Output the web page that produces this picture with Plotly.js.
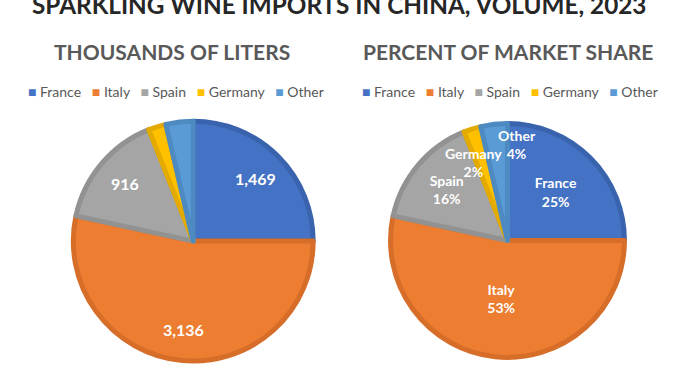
<!DOCTYPE html>
<html><head><meta charset="utf-8">
<script src="https://cdn.plot.ly/plotly-3.0.1.min.js"></script>
<style>html,body{margin:0;padding:0;background:#fff}#chart{width:678px;height:381px}</style>
</head><body><div id="chart"></div>
<script>
const countries = ["France", "Italy", "Spain", "Germany", "Other"];
const volumeThousandLiters = [1469, 3136, 916, 140, 215];
const volumeLabelShown = [true, true, true, false, false];
const shareLabelInside = [true, true, true, false, false];
const sliceColors = ["#4472C4", "#ED7D31", "#A5A5A5", "#FFC000", "#5B9BD5"];
const sliceBorders = ["#3A63AE", "#D66D28", "#929292", "#E3AB00", "#4E8AC2"];
const titleText = "SPARKLING WINE IMPORTS IN CHINA, VOLUME, 2023";
const leftSubtitle = "THOUSANDS OF LITERS";
const rightSubtitle = "PERCENT OF MARKET SHARE";

const FONT = "Lato, 'Open Sans', sans-serif";
const W = 678, H = 381;
const leftDomain = {x: [0.108, 0.462], y: [0.0525, 0.682]};
const rightDomain = {x: [0.576, 0.921], y: [0.0617, 0.676]};

const total = volumeThousandLiters.reduce((a, b) => a + b, 0);
// mid-angle (radians, clockwise from 12 o'clock) of each slice, from the data
const midAngles = (() => {
  let cum = 0;
  return volumeThousandLiters.map(v => { const m = (cum + v / 2) / total * 2 * Math.PI; cum += v; return m; });
})();
function labelPoint(domain, i, k) {
  const cx = (domain.x[0] + domain.x[1]) / 2, cy = (domain.y[0] + domain.y[1]) / 2;
  const r = Math.min((domain.x[1] - domain.x[0]) * W, (domain.y[1] - domain.y[0]) * H) / 2;
  return {x: cx + k * r * Math.sin(midAngles[i]) / W, y: cy + k * r * Math.cos(midAngles[i]) / H};
}

const leftPie = {
  type: "pie", labels: countries, values: volumeThousandLiters,
  sort: false, direction: "clockwise", rotation: 0,
  domain: leftDomain,
  marker: {colors: sliceColors, line: {color: sliceBorders, width: 5}},
  textinfo: "none",
  hoverinfo: "label+value", showlegend: false
};
const rightPie = {
  type: "pie", labels: countries, values: volumeThousandLiters,
  sort: false, direction: "clockwise", rotation: 0,
  domain: rightDomain,
  marker: {colors: sliceColors, line: {color: sliceBorders, width: 5}},
  texttemplate: shareLabelInside.map(s => s ? "%{label}<br>%{percent:.0%}" : ""),
  textposition: "inside", insidetextorientation: "horizontal",
  textfont: {family: FONT, size: 14, color: "#ffffff", weight: 700},
  hoverinfo: "label+percent", showlegend: false
};

function legendText() {
  return countries.map((c, i) =>
    `<span style="color:${sliceColors[i]};font-size:14px">■</span> ${c}`
  ).join("&nbsp;&nbsp;&nbsp;");
}

const annotations = [
  {text: titleText, xref: "paper", yref: "paper", x: 339 / W, y: 1 - 4.4 / H,
   xanchor: "center", yanchor: "middle", showarrow: false,
   font: {family: FONT, size: 24.3, color: "#262626", weight: 700}},
  {text: leftSubtitle, xref: "paper", yref: "paper", x: 172 / W, y: 1 - 51.5 / H,
   xanchor: "center", yanchor: "middle", showarrow: false,
   font: {family: FONT, size: 21, color: "#595959", weight: 700}},
  {text: rightSubtitle, xref: "paper", yref: "paper", x: 507.5 / W, y: 1 - 51.5 / H,
   xanchor: "center", yanchor: "middle", showarrow: false,
   font: {family: FONT, size: 21, color: "#595959", weight: 700}},
  {text: legendText(), xref: "paper", yref: "paper", x: 176 / W, y: 1 - 91 / H,
   xanchor: "center", yanchor: "middle", showarrow: false,
   font: {family: FONT, size: 14, color: "#595959"}},
  {text: legendText(), xref: "paper", yref: "paper", x: 510 / W, y: 1 - 91 / H,
   xanchor: "center", yanchor: "middle", showarrow: false,
   font: {family: FONT, size: 14, color: "#595959"}}
];

// value labels of the left pie, placed along each slice's mid-angle
volumeThousandLiters.forEach((v, i) => {
  if (!volumeLabelShown[i]) return;
  const p = labelPoint(leftDomain, i, 0.74);
  annotations.push({text: v.toLocaleString("en-US"), xref: "paper", yref: "paper",
    x: p.x, y: p.y, xanchor: "center", yanchor: "middle", showarrow: false,
    font: {family: FONT, size: 16, color: "#ffffff", weight: 700}});
});

// share labels of the thin slices of the right pie, spilling over neighbours
volumeThousandLiters.forEach((v, i) => {
  if (shareLabelInside[i]) return;
  const isLast = i === volumeThousandLiters.length - 1;
  const p = labelPoint(rightDomain, i, isLast ? 0.83 : 0.7);
  annotations.push({text: countries[i] + "<br>" + Math.round(v / total * 100) + "%",
    xref: "paper", yref: "paper", x: p.x, y: p.y, xshift: isLast ? 0 : -9,
    xanchor: isLast ? "left" : "center", yanchor: "middle", showarrow: false,
    font: {family: FONT, size: 14, color: "#ffffff", weight: 700}});
});

const layout = {
  width: W, height: H,
  margin: {l: 0, r: 0, t: 0, b: 0},
  paper_bgcolor: "#ffffff", plot_bgcolor: "#ffffff",
  showlegend: false,
  font: {family: FONT},
  annotations: annotations
};

Plotly.newPlot("chart", [leftPie, rightPie], layout, {displayModeBar: false, staticPlot: true});
</script></body></html>
